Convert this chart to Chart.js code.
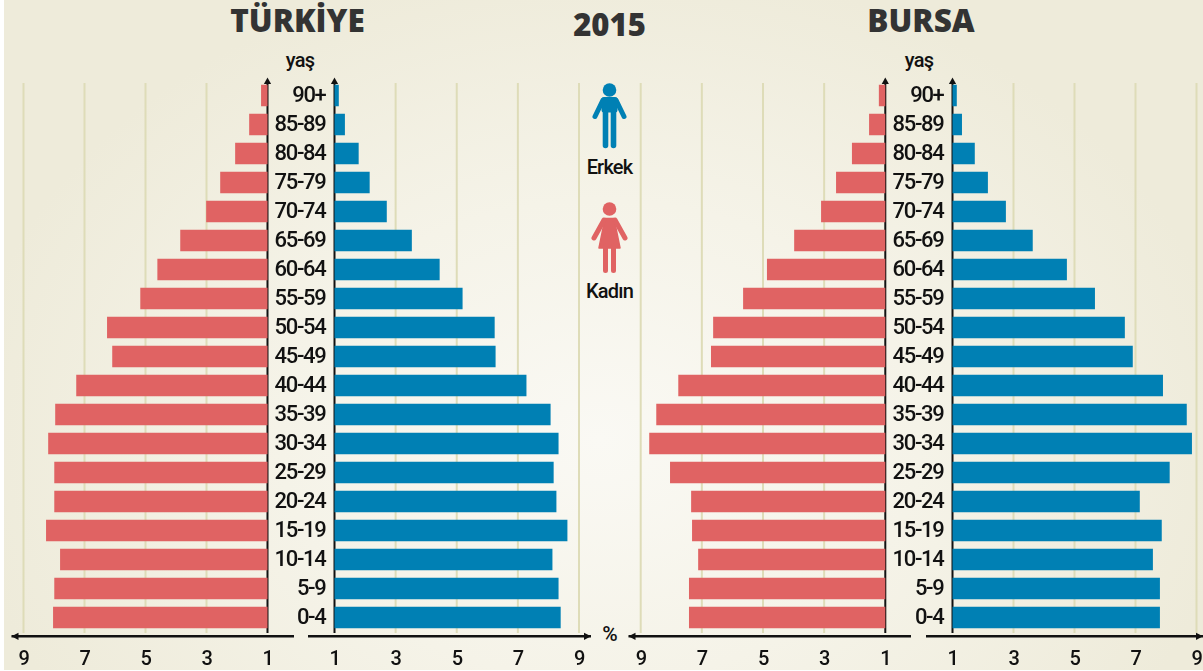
<!DOCTYPE html>
<html lang="tr">
<head>
<meta charset="utf-8">
<title>Nüfus piramidi 2015</title>
<script src="https://cdn.jsdelivr.net/npm/chart.js@4"></script>
<style>
html,body{margin:0;padding:0;width:1203px;height:671px;overflow:hidden;background:#fff}
#bg{position:absolute;left:4px;top:0;width:1199px;height:670px;
background:radial-gradient(ellipse 640px 480px at 596px 440px,#faf9f4 0%,#f5f3e8 50%,#eeebda 100%)}
canvas{position:absolute;top:0}
.t{position:absolute;white-space:nowrap;transform:translateX(-50%);line-height:1}
.h{font:800 31.5px "Open Sans",sans-serif;color:#333;top:-2px}
.s{font:500 20px Roboto,sans-serif;color:#111;letter-spacing:-.8px}
svg{position:absolute;left:0;top:0}
</style>
</head>
<body>
<div id="bg"></div>
<div class="t h" style="left:297.5px">TÜRKİYE</div>
<div class="t h" style="left:609.5px;top:3px;font-size:31px">2015</div>
<div class="t h" style="left:921px">BURSA</div>
<div class="t s" style="left:300px;top:48px">yaş</div>
<div class="t s" style="left:919px;top:48px">yaş</div>
<div class="t s" style="left:609.5px;top:155px">Erkek</div>
<div class="t s" style="left:609.5px;top:279px">Kadın</div>
<div class="t s" style="left:609.5px;top:622px;font-size:21px">%</div>
<svg width="1203" height="671" viewBox="0 0 1203 671">
  <g fill="#0080b4" stroke="#0080b4" stroke-linecap="round" stroke-linejoin="round">
    <circle cx="609.5" cy="90" r="6.8" stroke="none"/>
    <path d="M604 99.5H615V110H604Z" stroke-width="5"/>
    <path d="M603 100L595 116.5M616 100L624 116.5" stroke-width="5" fill="none"/>
    <path d="M605.5 108V145.5M613.5 108V145.5" stroke-width="5.6" fill="none"/>
  </g>
  <g fill="#e06363" stroke="#e06363" stroke-linecap="round" stroke-linejoin="round">
    <circle cx="609.5" cy="209" r="6.8" stroke="none"/>
    <path d="M605 218.5H614L620 248H599Z" stroke-width="1.5"/>
    <path d="M604 220L594 238M615 220L625 238" stroke-width="5" fill="none"/>
    <path d="M605.5 246V270.5M613.5 246V270.5" stroke-width="5" fill="none"/>
  </g>
</svg>
<script>
const ageGroups = ["90+","85-89","80-84","75-79","70-74","65-69","60-64","55-59","50-54","45-49","40-44","35-39","30-34","25-29","20-24","15-19","10-14","5-9","0-4"];
const turkiyeKadin = [1.2,1.59,2.05,2.54,3.0,3.85,4.6,5.16,6.25,6.08,7.26,7.95,8.18,7.98,7.98,8.25,7.79,7.98,8.02];
const turkiyeErkek = [1.13,1.33,1.78,2.14,2.7,3.52,4.43,5.18,6.23,6.26,7.27,8.06,8.32,8.16,8.25,8.61,8.12,8.32,8.39];
const bursaKadin = [1.2,1.52,2.08,2.6,3.09,3.97,4.86,5.64,6.62,6.69,7.76,8.48,8.71,8.03,7.34,7.31,7.11,7.41,7.41];
const bursaErkek = [1.13,1.3,1.72,2.15,2.74,3.62,4.74,5.66,6.64,6.9,7.89,8.67,8.84,8.11,7.13,7.85,7.56,7.79,7.79];
const axisMin = 1, axisMax = 9, axisStep = 2;

const INK = "#111", GRID = "#dedcb8", RED = "#e06363", BLUE = "#0080b4";
const FONT = "Roboto";

const decor = {
  id: "decor",
  beforeDraw(chart) {
    chart.ctx.letterSpacing = "-1.3px";
  },
  beforeDatasetsDraw(chart, args, o) {
    const c = chart.ctx, x = chart.scales.x, ox = o.originLeft;
    c.save();
    c.strokeStyle = GRID; c.lineWidth = 2;
    x.ticks.forEach(t => {
      if (t.value === axisMin) return;
      const p = x.getPixelForValue(t.value);
      c.beginPath(); c.moveTo(p, 83); c.lineTo(p, 633); c.stroke();
    });
    const base = x.getPixelForValue(axisMin);
    c.strokeStyle = INK; c.fillStyle = INK; c.lineWidth = 2;
    c.beginPath(); c.moveTo(base, 83); c.lineTo(base, 633); c.stroke();
    c.beginPath(); c.moveTo(base - 3.6, 84); c.lineTo(base + 3.6, 84); c.lineTo(base, 77.5); c.closePath(); c.fill();
    const a = o.from - ox, b = o.to - ox;
    c.lineWidth = 2.4;
    c.beginPath(); c.moveTo(a, 636.3); c.lineTo(b, 636.3); c.stroke();
    if (o.arrow) {
      const tip = o.arrow < 0 ? a : b;
      c.beginPath(); c.moveTo(tip, 636.3); c.lineTo(tip - o.arrow * 7, 632.7); c.lineTo(tip - o.arrow * 7, 639.9); c.closePath(); c.fill();
    }
    c.restore();
  }
};

function panel(id, left, width, areaL, areaR, reversed, name, values, color, from, to, arrow) {
  const cv = document.createElement("canvas");
  cv.id = id; cv.width = width; cv.height = 671;
  cv.style.left = left + "px"; cv.style.width = width + "px"; cv.style.height = "671px";
  document.body.appendChild(cv);
  const showAges = !reversed;
  new Chart(cv, {
    type: "bar",
    plugins: [decor],
    data: { labels: ageGroups, datasets: [{ label: name, data: values, backgroundColor: color, barThickness: 21, borderWidth: 0 }] },
    options: {
      indexAxis: "y", responsive: false, animation: false, devicePixelRatio: 1,
      layout: { padding: { left: showAges ? 0 : areaL - left, right: left + width - areaR, top: 81, bottom: 0 } },
      plugins: { legend: { display: false }, tooltip: { enabled: false }, decor: { originLeft: left, from, to, arrow } },
      scales: {
        x: {
          type: "linear", reverse: reversed, min: axisMin, max: axisMax,
          grid: { display: false, drawTicks: false }, border: { display: false },
          afterFit: s => { s.height = 39; s.paddingLeft = 0; s.paddingRight = 0; },
          ticks: { stepSize: axisStep, autoSkip: false, maxRotation: 0, padding: 16, color: INK,
                   font: { family: FONT, size: 20, weight: "500" } }
        },
        y: {
          type: "category", display: showAges,
          grid: { display: false, drawTicks: false }, border: { display: false },
          afterFit: s => { if (showAges) s.width = areaL - left; },
          ticks: { padding: 9, labelOffset: 1, color: INK, autoSkip: false, font: { family: FONT, size: 22, weight: "500" } }
        }
      }
    }
  });
}

panel("turkiyeF", 0, 300, 23.5, 267.5, true, "Kadın", turkiyeKadin, RED, 11.5, 294, -1);
panel("turkiyeM", 268, 330, 334.5, 579, false, "Erkek", turkiyeErkek, BLUE, 308, 591, 1);
panel("bursaF", 620, 300, 640.7, 885.3, true, "Kadın", bursaKadin, RED, 628.5, 911, -1);
panel("bursaM", 886, 317, 952.5, 1196.5, false, "Erkek", bursaErkek, BLUE, 926, 1203, 1);
</script>
</body>
</html>
